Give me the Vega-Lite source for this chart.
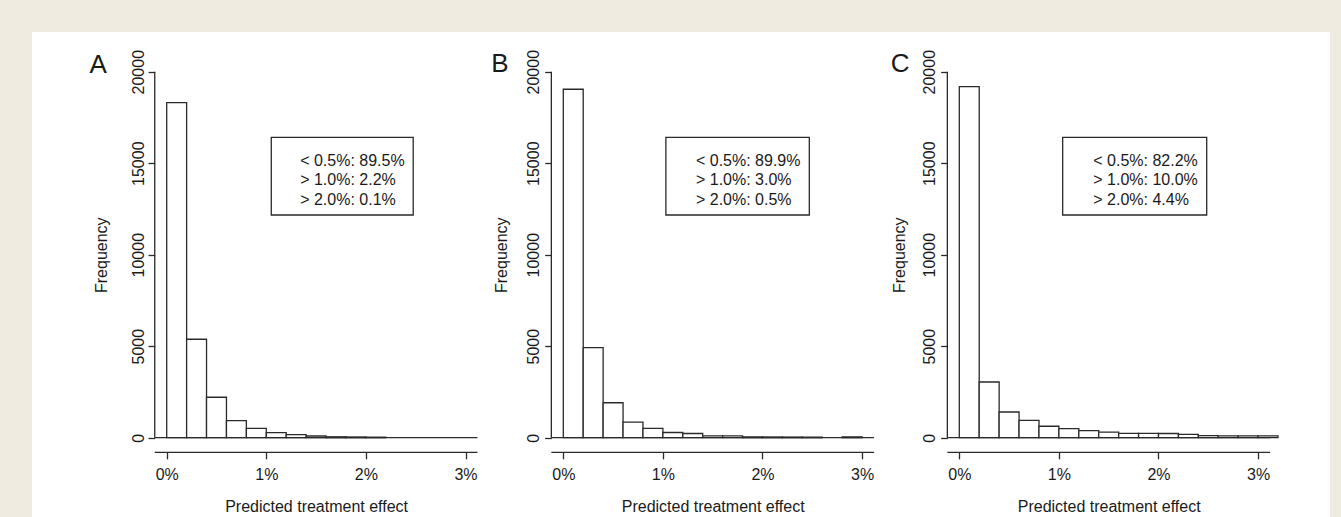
{
  "$schema": "https://vega.github.io/schema/vega-lite/v6.json",
  "background": "#efebe0",
  "padding": {"left": 32, "top": 32, "right": 11, "bottom": 0},
  "spacing": 0,
  "bounds": "flush",
  "config": {
    "view": {"fill": "white", "stroke": null},
    "font": "Liberation Sans",
    "concat": {"spacing": 0},
    "axis": {
      "domain": false,
      "grid": false,
      "tickColor": "#2a2a2a",
      "tickWidth": 1.3,
      "labelColor": "#1a1a1a",
      "titleColor": "#1a1a1a",
      "labelFont": "Liberation Sans",
      "titleFont": "Liberation Sans",
      "labelFontSize": 16,
      "titleFontSize": 16,
      "titleFontWeight": "normal",
      "labelOverlap": false,
      "labelBound": false,
      "labelFlush": false
    },
    "text": {"font": "Liberation Sans", "color": "#1a1a1a"}
  },
  "datasets": {
    "histA": [
      {"bin_start": 0.0, "bin_end": 0.2, "count": 18310},
      {"bin_start": 0.2, "bin_end": 0.4, "count": 5380},
      {"bin_start": 0.4, "bin_end": 0.6, "count": 2210},
      {"bin_start": 0.6, "bin_end": 0.8, "count": 930},
      {"bin_start": 0.8, "bin_end": 1.0, "count": 505},
      {"bin_start": 1.0, "bin_end": 1.2, "count": 272},
      {"bin_start": 1.2, "bin_end": 1.4, "count": 164},
      {"bin_start": 1.4, "bin_end": 1.6, "count": 93},
      {"bin_start": 1.6, "bin_end": 1.8, "count": 50},
      {"bin_start": 1.8, "bin_end": 2.0, "count": 40},
      {"bin_start": 2.0, "bin_end": 2.2, "count": 28}
    ],
    "histB": [
      {"bin_start": 0.0, "bin_end": 0.2, "count": 19040},
      {"bin_start": 0.2, "bin_end": 0.4, "count": 4920},
      {"bin_start": 0.4, "bin_end": 0.6, "count": 1910},
      {"bin_start": 0.6, "bin_end": 0.8, "count": 850},
      {"bin_start": 0.8, "bin_end": 1.0, "count": 505},
      {"bin_start": 1.0, "bin_end": 1.2, "count": 285},
      {"bin_start": 1.2, "bin_end": 1.4, "count": 230},
      {"bin_start": 1.4, "bin_end": 1.6, "count": 105},
      {"bin_start": 1.6, "bin_end": 1.8, "count": 95},
      {"bin_start": 1.8, "bin_end": 2.0, "count": 45},
      {"bin_start": 2.0, "bin_end": 2.2, "count": 40},
      {"bin_start": 2.2, "bin_end": 2.4, "count": 35},
      {"bin_start": 2.4, "bin_end": 2.6, "count": 30},
      {"bin_start": 2.8, "bin_end": 3.0, "count": 45}
    ],
    "histC": [
      {"bin_start": 0.0, "bin_end": 0.2, "count": 19180},
      {"bin_start": 0.2, "bin_end": 0.4, "count": 3045},
      {"bin_start": 0.4, "bin_end": 0.6, "count": 1405},
      {"bin_start": 0.6, "bin_end": 0.8, "count": 945},
      {"bin_start": 0.8, "bin_end": 1.0, "count": 625},
      {"bin_start": 1.0, "bin_end": 1.2, "count": 492},
      {"bin_start": 1.2, "bin_end": 1.4, "count": 385},
      {"bin_start": 1.4, "bin_end": 1.6, "count": 300},
      {"bin_start": 1.6, "bin_end": 1.8, "count": 235},
      {"bin_start": 1.8, "bin_end": 2.0, "count": 235},
      {"bin_start": 2.0, "bin_end": 2.2, "count": 230},
      {"bin_start": 2.2, "bin_end": 2.4, "count": 180},
      {"bin_start": 2.4, "bin_end": 2.6, "count": 110},
      {"bin_start": 2.6, "bin_end": 2.8, "count": 105},
      {"bin_start": 2.8, "bin_end": 3.0, "count": 100},
      {"bin_start": 3.0, "bin_end": 3.2, "count": 95}
    ],
    "infoA": [{"panel": "A", "lines": "< 0.5%: 89.5%\n> 1.0%: 2.2%\n> 2.0%: 0.1%"}],
    "infoB": [{"panel": "B", "lines": "< 0.5%: 89.9%\n> 1.0%: 3.0%\n> 2.0%: 0.5%"}],
    "infoC": [{"panel": "C", "lines": "< 0.5%: 82.2%\n> 1.0%: 10.0%\n> 2.0%: 4.4%"}]
  },
  "hconcat": [
    {
      "width": 453,
      "height": 485,
      "layer": [
        {
          "data": {"name": "histA"},
          "mark": {"type": "rect", "fill": "white", "stroke": "#2a2a2a", "strokeWidth": 1.3},
          "encoding": {
            "x": {
              "field": "bin_start", "type": "quantitative",
              "scale": {"domain": [-1.35241, 3.19578], "nice": false, "zero": false},
              "axis": {
                "values": [0, 1, 2, 3], "format": "d", "labelExpr": "datum.label + '%'",
                "offset": -64.66, "tickSize": 6.5, "labelPadding": 20.5, "labelBaseline": "alphabetic", "labelAlign": "center",
                "title": "Predicted treatment effect", "titleX": 284.1, "titleY": 59.2,
                "titleAlign": "center", "titleBaseline": "alphabetic", "titleAngle": 0
              }
            },
            "x2": {"field": "bin_end"},
            "y": {
              "field": "count", "type": "quantitative",
              "scale": {"domain": [-4333.3, 22169.4], "nice": false, "zero": false},
              "axis": {
                "values": [0, 5000, 10000, 15000, 20000], "format": "d",
                "offset": -122.75, "tickSize": 6.7, "labelPadding": 5, "labelAngle": 270,
                "labelAlign": "center", "labelBaseline": "alphabetic",
                "title": "Frequency", "titleAngle": 270, "titleX": -48.2, "titleY": 222.7,
                "titleAlign": "center", "titleBaseline": "alphabetic"
              }
            },
            "y2": {"datum": 0}
          }
        },
        {
          "data": {"name": "infoA"},
          "layer": [
            {"mark": {"type": "rule", "color": "#2a2a2a", "strokeWidth": 1.3},
             "encoding": {"x": {"datum": -0.12}, "x2": {"datum": 3.12}, "y": {"datum": 0}}},
            {"mark": {"type": "rule", "color": "#2a2a2a", "strokeWidth": 1.3},
             "encoding": {"x": {"datum": -0.12}, "y": {"datum": 0}, "y2": {"datum": 20000}}},
            {"mark": {"type": "rule", "color": "#2a2a2a", "strokeWidth": 1.3},
             "encoding": {"x": {"datum": -0.12}, "x2": {"datum": 3.12}, "y": {"datum": -800}}},
            {"mark": {"type": "rect", "fill": null, "fillOpacity": 0, "stroke": "#2a2a2a", "strokeWidth": 1.3},
             "encoding": {"x": {"datum": 1.05}, "x2": {"datum": 2.475}, "y": {"datum": 12169}, "y2": {"datum": 16415}}},
            {"mark": {"type": "text", "align": "left", "baseline": "alphabetic", "fontSize": 16, "lineHeight": 19.3, "lineBreak": "\n"},
             "encoding": {"x": {"datum": 1.34}, "y": {"datum": 14847}, "text": {"field": "lines", "type": "nominal"}}},
            {"mark": {"type": "text", "align": "center", "baseline": "alphabetic", "fontSize": 26},
             "encoding": {"x": {"datum": -0.687}, "y": {"datum": 19910}, "text": {"field": "panel", "type": "nominal"}}}
          ]
        }
      ]
    },
    {
      "width": 398,
      "height": 485,
      "layer": [
        {
          "data": {"name": "histB"},
          "mark": {"type": "rect", "fill": "white", "stroke": "#2a2a2a", "strokeWidth": 1.3},
          "encoding": {
            "x": {
              "field": "bin_start", "type": "quantitative",
              "scale": {"domain": [-0.78614, 3.20984], "nice": false, "zero": false},
              "axis": {
                "values": [0, 1, 2, 3], "format": "d", "labelExpr": "datum.label + '%'",
                "offset": -64.66, "tickSize": 6.5, "labelPadding": 20.5, "labelBaseline": "alphabetic", "labelAlign": "center",
                "title": "Predicted treatment effect", "titleX": 227.7, "titleY": 59.2,
                "titleAlign": "center", "titleBaseline": "alphabetic", "titleAngle": 0
              }
            },
            "x2": {"field": "bin_end"},
            "y": {
              "field": "count", "type": "quantitative",
              "scale": {"domain": [-4333.3, 22169.4], "nice": false, "zero": false},
              "axis": {
                "values": [0, 5000, 10000, 15000, 20000], "format": "d",
                "offset": -66.35, "tickSize": 6.7, "labelPadding": 6, "labelAngle": 270,
                "labelAlign": "center", "labelBaseline": "alphabetic",
                "title": "Frequency", "titleAngle": 270, "titleX": -44.5, "titleY": 222.7,
                "titleAlign": "center", "titleBaseline": "alphabetic"
              }
            },
            "y2": {"datum": 0}
          }
        },
        {
          "data": {"name": "infoB"},
          "layer": [
            {"mark": {"type": "rule", "color": "#2a2a2a", "strokeWidth": 1.3},
             "encoding": {"x": {"datum": -0.12}, "x2": {"datum": 3.12}, "y": {"datum": 0}}},
            {"mark": {"type": "rule", "color": "#2a2a2a", "strokeWidth": 1.3},
             "encoding": {"x": {"datum": -0.12}, "y": {"datum": 0}, "y2": {"datum": 20000}}},
            {"mark": {"type": "rule", "color": "#2a2a2a", "strokeWidth": 1.3},
             "encoding": {"x": {"datum": -0.12}, "x2": {"datum": 3.12}, "y": {"datum": -800}}},
            {"mark": {"type": "rect", "fill": null, "fillOpacity": 0, "stroke": "#2a2a2a", "strokeWidth": 1.3},
             "encoding": {"x": {"datum": 1.03}, "x2": {"datum": 2.47}, "y": {"datum": 12169}, "y2": {"datum": 16415}}},
            {"mark": {"type": "text", "align": "left", "baseline": "alphabetic", "fontSize": 16, "lineHeight": 19.3, "lineBreak": "\n"},
             "encoding": {"x": {"datum": 1.332}, "y": {"datum": 14847}, "text": {"field": "lines", "type": "nominal"}}},
            {"mark": {"type": "text", "align": "center", "baseline": "alphabetic", "fontSize": 26},
             "encoding": {"x": {"datum": -0.636}, "y": {"datum": 20000}, "text": {"field": "panel", "type": "nominal"}}}
          ]
        }
      ]
    },
    {
      "width": 447,
      "height": 485,
      "layer": [
        {
          "data": {"name": "histC"},
          "mark": {"type": "rect", "fill": "white", "stroke": "#2a2a2a", "strokeWidth": 1.3},
          "encoding": {
            "x": {
              "field": "bin_start", "type": "quantitative",
              "scale": {"domain": [-0.76606, 3.72189], "nice": false, "zero": false},
              "axis": {
                "values": [0, 1, 2, 3], "format": "d", "labelExpr": "datum.label + '%'",
                "offset": -64.66, "tickSize": 6.5, "labelPadding": 20.5, "labelBaseline": "alphabetic", "labelAlign": "center",
                "title": "Predicted treatment effect", "titleX": 225.7, "titleY": 59.2,
                "titleAlign": "center", "titleBaseline": "alphabetic", "titleAngle": 0
              }
            },
            "x2": {"field": "bin_end"},
            "y": {
              "field": "count", "type": "quantitative",
              "scale": {"domain": [-4333.3, 22169.4], "nice": false, "zero": false},
              "axis": {
                "values": [0, 5000, 10000, 15000, 20000], "format": "d",
                "offset": -64.35, "tickSize": 6.7, "labelPadding": 6, "labelAngle": 270,
                "labelAlign": "center", "labelBaseline": "alphabetic",
                "title": "Frequency", "titleAngle": 270, "titleX": -43.2, "titleY": 222.7,
                "titleAlign": "center", "titleBaseline": "alphabetic"
              }
            },
            "y2": {"datum": 0}
          }
        },
        {
          "data": {"name": "infoC"},
          "layer": [
            {"mark": {"type": "rule", "color": "#2a2a2a", "strokeWidth": 1.3},
             "encoding": {"x": {"datum": -0.12}, "x2": {"datum": 3.12}, "y": {"datum": 0}}},
            {"mark": {"type": "rule", "color": "#2a2a2a", "strokeWidth": 1.3},
             "encoding": {"x": {"datum": -0.12}, "y": {"datum": 0}, "y2": {"datum": 20000}}},
            {"mark": {"type": "rule", "color": "#2a2a2a", "strokeWidth": 1.3},
             "encoding": {"x": {"datum": -0.12}, "x2": {"datum": 3.12}, "y": {"datum": -800}}},
            {"mark": {"type": "rect", "fill": null, "fillOpacity": 0, "stroke": "#2a2a2a", "strokeWidth": 1.3},
             "encoding": {"x": {"datum": 1.038}, "x2": {"datum": 2.484}, "y": {"datum": 12169}, "y2": {"datum": 16415}}},
            {"mark": {"type": "text", "align": "left", "baseline": "alphabetic", "fontSize": 16, "lineHeight": 19.3, "lineBreak": "\n"},
             "encoding": {"x": {"datum": 1.345}, "y": {"datum": 14847}, "text": {"field": "lines", "type": "nominal"}}},
            {"mark": {"type": "text", "align": "center", "baseline": "alphabetic", "fontSize": 26},
             "encoding": {"x": {"datum": -0.595}, "y": {"datum": 20000}, "text": {"field": "panel", "type": "nominal"}}}
          ]
        }
      ]
    }
  ]
}
